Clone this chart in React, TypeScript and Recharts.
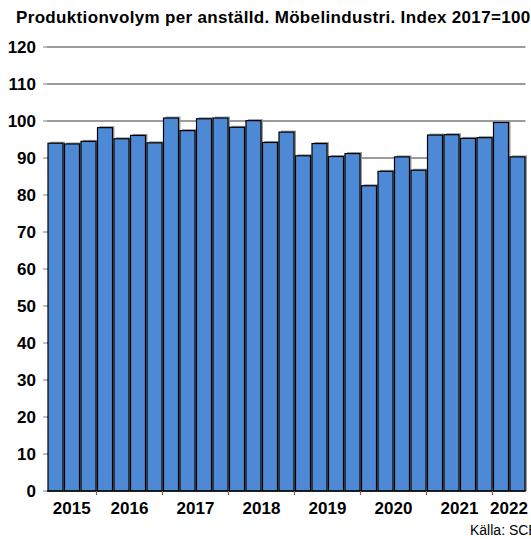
import { BarChart, Bar, XAxis, YAxis, CartesianGrid } from 'recharts';

const quarters = [
  '2015K2', '2015K3', '2015K4',
  '2016K1', '2016K2', '2016K3', '2016K4',
  '2017K1', '2017K2', '2017K3', '2017K4',
  '2018K1', '2018K2', '2018K3', '2018K4',
  '2019K1', '2019K2', '2019K3', '2019K4',
  '2020K1', '2020K2', '2020K3', '2020K4',
  '2021K1', '2021K2', '2021K3', '2021K4',
  '2022K1', '2022K2',
];
const index = [
  94.0, 93.8, 94.5,
  98.2, 95.2, 96.1, 94.1,
  100.8, 97.4, 100.6, 100.8,
  98.3, 100.1, 94.2, 97.0,
  90.6, 93.9, 90.4, 91.2,
  82.5, 86.4, 90.3, 86.7,
  96.2, 96.3, 95.3, 95.5,
  99.6, 90.3,
];
const yTicks = [0, 10, 20, 30, 40, 50, 60, 70, 80, 90, 100, 110, 120];

const data = quarters.map((q, i) => ({ q, value: index[i] }));

const W = 531;
const H = 539;
const LEFT = 47;
const RIGHT = 5.5;
const STEP = (W - LEFT - RIGHT) / quarters.length;
const AXIS_Y = 491;
const FONT = '"Liberation Sans", Arial, sans-serif';

// bar with the grey offset shadow from the original
const ShadowBar = (props: any) => {
  const { x, y, width, height } = props;
  if (!height) return null;
  return (
    <g>
      <rect x={x + 2} y={y - 1.5} width={width} height={height + 1.5} fill="#9a9a9a" />
      <rect x={x} y={y} width={width} height={height} fill="#4D89D4" stroke="#000" strokeWidth={1.2} />
    </g>
  );
};

// ticks between years, year label centred under its quarters
const YearTick = (props: any) => {
  const { x, payload } = props;
  const q: string = payload.value;
  const year = q.slice(0, 4);
  const i = quarters.indexOf(q);
  const first = quarters.findIndex(v => v.startsWith(year));
  let last = first;
  while (last + 1 < quarters.length && quarters[last + 1].startsWith(year)) last++;
  return (
    <g>
      {q.endsWith('K1') && (
        <line x1={x - STEP / 2} x2={x - STEP / 2} y1={AXIS_Y} y2={AXIS_Y + 4} stroke="#666" strokeWidth={1.2} />
      )}
      {i === first && (
        <text
          x={x + ((last - first) / 2) * STEP}
          y={AXIS_Y + 23}
          textAnchor="middle"
          fontSize={17}
          fontWeight="bold"
          fontFamily={FONT}
          fill="#000"
        >
          {year}
        </text>
      )}
    </g>
  );
};

export default function App() {
  return (
    <div style={{ position: 'absolute', left: 0, top: 0, width: W, height: H, fontFamily: FONT, overflow: 'hidden' }}>
      <div
        style={{
          position: 'absolute', left: 16, top: 8.5, fontSize: 17, lineHeight: 1, fontWeight: 'bold',
          letterSpacing: 0.34, whiteSpace: 'nowrap', color: '#000',
        }}
      >
        Produktionvolym per anställd. Möbelindustri. Index 2017=100
      </div>
      <BarChart
        width={W}
        height={H}
        data={data}
        margin={{ top: 47, right: RIGHT, bottom: 0, left: 7 }}
        barCategoryGap={1}
      >
        <CartesianGrid vertical={false} stroke="#7a7a7a" strokeWidth={1.5} />
        <YAxis
          domain={[0, 120]}
          ticks={yTicks}
          interval={0}
          width={40}
          axisLine={false}
          tickLine={{ stroke: '#808080' }}
          tickSize={4}
          tickMargin={7}
          tick={{ fontSize: 17, fontWeight: 'bold', fill: '#000', fontFamily: FONT }}
        />
        <XAxis
          dataKey="q"
          interval={0}
          height={48}
          tickLine={false}
          axisLine={{ stroke: '#000' }}
          tick={<YearTick />}
        />
        <Bar dataKey="value" shape={<ShadowBar />} isAnimationActive={false} />
      </BarChart>
      <div style={{ position: 'absolute', left: 470, top: 523, fontSize: 14, lineHeight: 1, whiteSpace: 'nowrap', color: '#000' }}>
        Källa: SCB
      </div>
    </div>
  );
}
